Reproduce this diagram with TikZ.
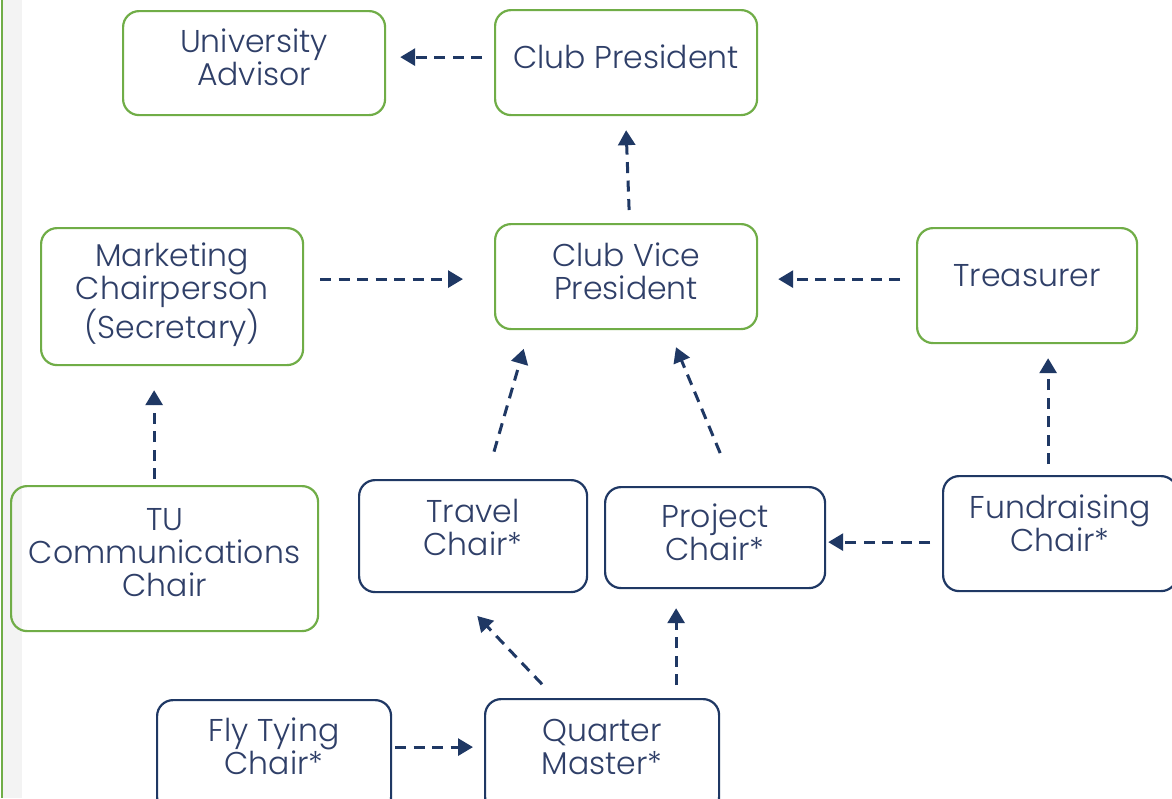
\documentclass[tikz,border=0pt]{standalone}
\usepackage{fontspec}
\setmainfont{Poppins}[UprightFont=* Light]
\usetikzlibrary{arrows.meta}
\definecolor{grn}{HTML}{70AD47}
\definecolor{nvy}{HTML}{1F3864}
\definecolor{txt}{HTML}{2F3F68}
\definecolor{band}{HTML}{F3F3F3}
\begin{document}
\begin{tikzpicture}[x=1pt,y=-1pt,
  box/.style={draw, line width=2.2pt, rounded corners=16pt, anchor=north west, inner sep=0pt,
    align=center, text=txt, font=\fontsize{31.5}{33}\selectfont},
  gbox/.style={box, draw=grn},
  nbox/.style={box, draw=nvy},
  arr/.style={draw=nvy, line width=3pt, dash pattern=on 11pt off 7.5pt,
    -{Triangle[length=15pt,width=17pt]}}]
\useasboundingbox (0,0) rectangle (1172,798);
\fill[white] (0,0) rectangle (1172,798);
\fill[band] (3,0) rectangle (22,798);
\draw[grn, line width=2pt] (2,0) -- (2,798);

\node[gbox, minimum width=262pt, text height=74pt, text depth=30pt] (ua) at (122,10) {University\\Advisor};
\node[gbox, minimum width=262pt, text height=58pt, text depth=47pt] (cp) at (494,9) {Club President};
\node[gbox, minimum width=262pt, text height=110pt, text depth=27pt] (mk) at (40,227) {Marketing\\Chairperson\\(Secretary)};
\node[gbox, minimum width=262pt, text height=75pt, text depth=30pt] (vp) at (494,223) {Club Vice\\President};
\node[gbox, minimum width=220pt, text height=58pt, text depth=57pt] (tr) at (916,227) {Treasurer};
\node[gbox, minimum width=307pt, text height=110pt, text depth=35pt] (tu) at (10,485) {TU\\Communications\\Chair};
\node[nbox, minimum width=228pt, text height=75pt, text depth=37pt] (tc) at (358,479) {Travel\\Chair*};
\node[nbox, minimum width=220pt, text height=73pt, text depth=28pt] (pc) at (604,486) {Project\\Chair*};
\node[nbox, minimum width=234pt, text height=75pt, text depth=40pt] (fr) at (942,475) {Fundraising\\Chair*};
\node[nbox, minimum width=234pt, text height=74pt, text depth=39pt] (ft) at (156,699) {Fly Tying\\Chair*};
\node[nbox, minimum width=234pt, text height=75pt, text depth=39pt] (qm) at (484,698) {Quarter\\Master*};

\draw[arr, shorten <=12pt, shorten >=14pt] ([yshift=5.5pt]cp.west) -- ([yshift=6pt]ua.east);
\draw[arr, shorten <=13pt, shorten >=14pt] ([xshift=3.5pt]vp.north) -- ([xshift=-0.5pt]cp.south);
\draw[arr, shorten <=16pt, shorten >=31pt] ([yshift=17.5pt]mk.east) -- ([yshift=-2.5pt]vp.west);
\draw[arr, shorten <=16pt, shorten >=20pt] ([yshift=6.5pt]tr.west) -- ([yshift=-2.5pt]vp.east);
\draw[arr, shorten <=6pt, shorten >=24pt] ([xshift=-10.5pt]tu.north) -- ([xshift=-18pt]mk.south);
\draw[arr, shorten <=11pt, shorten >=14pt] ([xshift=-12pt]fr.north) -- ([xshift=21pt]tr.south);
\draw[arr, shorten <=28.5pt, shorten >=19.4pt] ([xshift=13pt]tc.north) -- ([xshift=-97pt]vp.south);
\draw[arr, shorten <=35.7pt, shorten >=18.4pt] ([xshift=18.8pt]pc.north) -- ([xshift=42.8pt]vp.south);
\draw[arr, shorten <=12pt, shorten >=2pt] ([yshift=-8.5pt]fr.west) -- ([yshift=-4.5pt]pc.east);
\draw[arr, shorten <=19pt, shorten >=31.4pt] ([xshift=-47pt]qm.north) -- ([xshift=-17.4pt]tc.south);
\draw[arr, shorten <=13pt, shorten >=19pt] ([xshift=74pt]qm.north) -- ([xshift=-39pt]pc.south);
\draw[arr, shorten <=3pt, shorten >=11pt] ([yshift=9.5pt]ft.east) -- ([yshift=9pt]qm.west);
\end{tikzpicture}
\end{document}
